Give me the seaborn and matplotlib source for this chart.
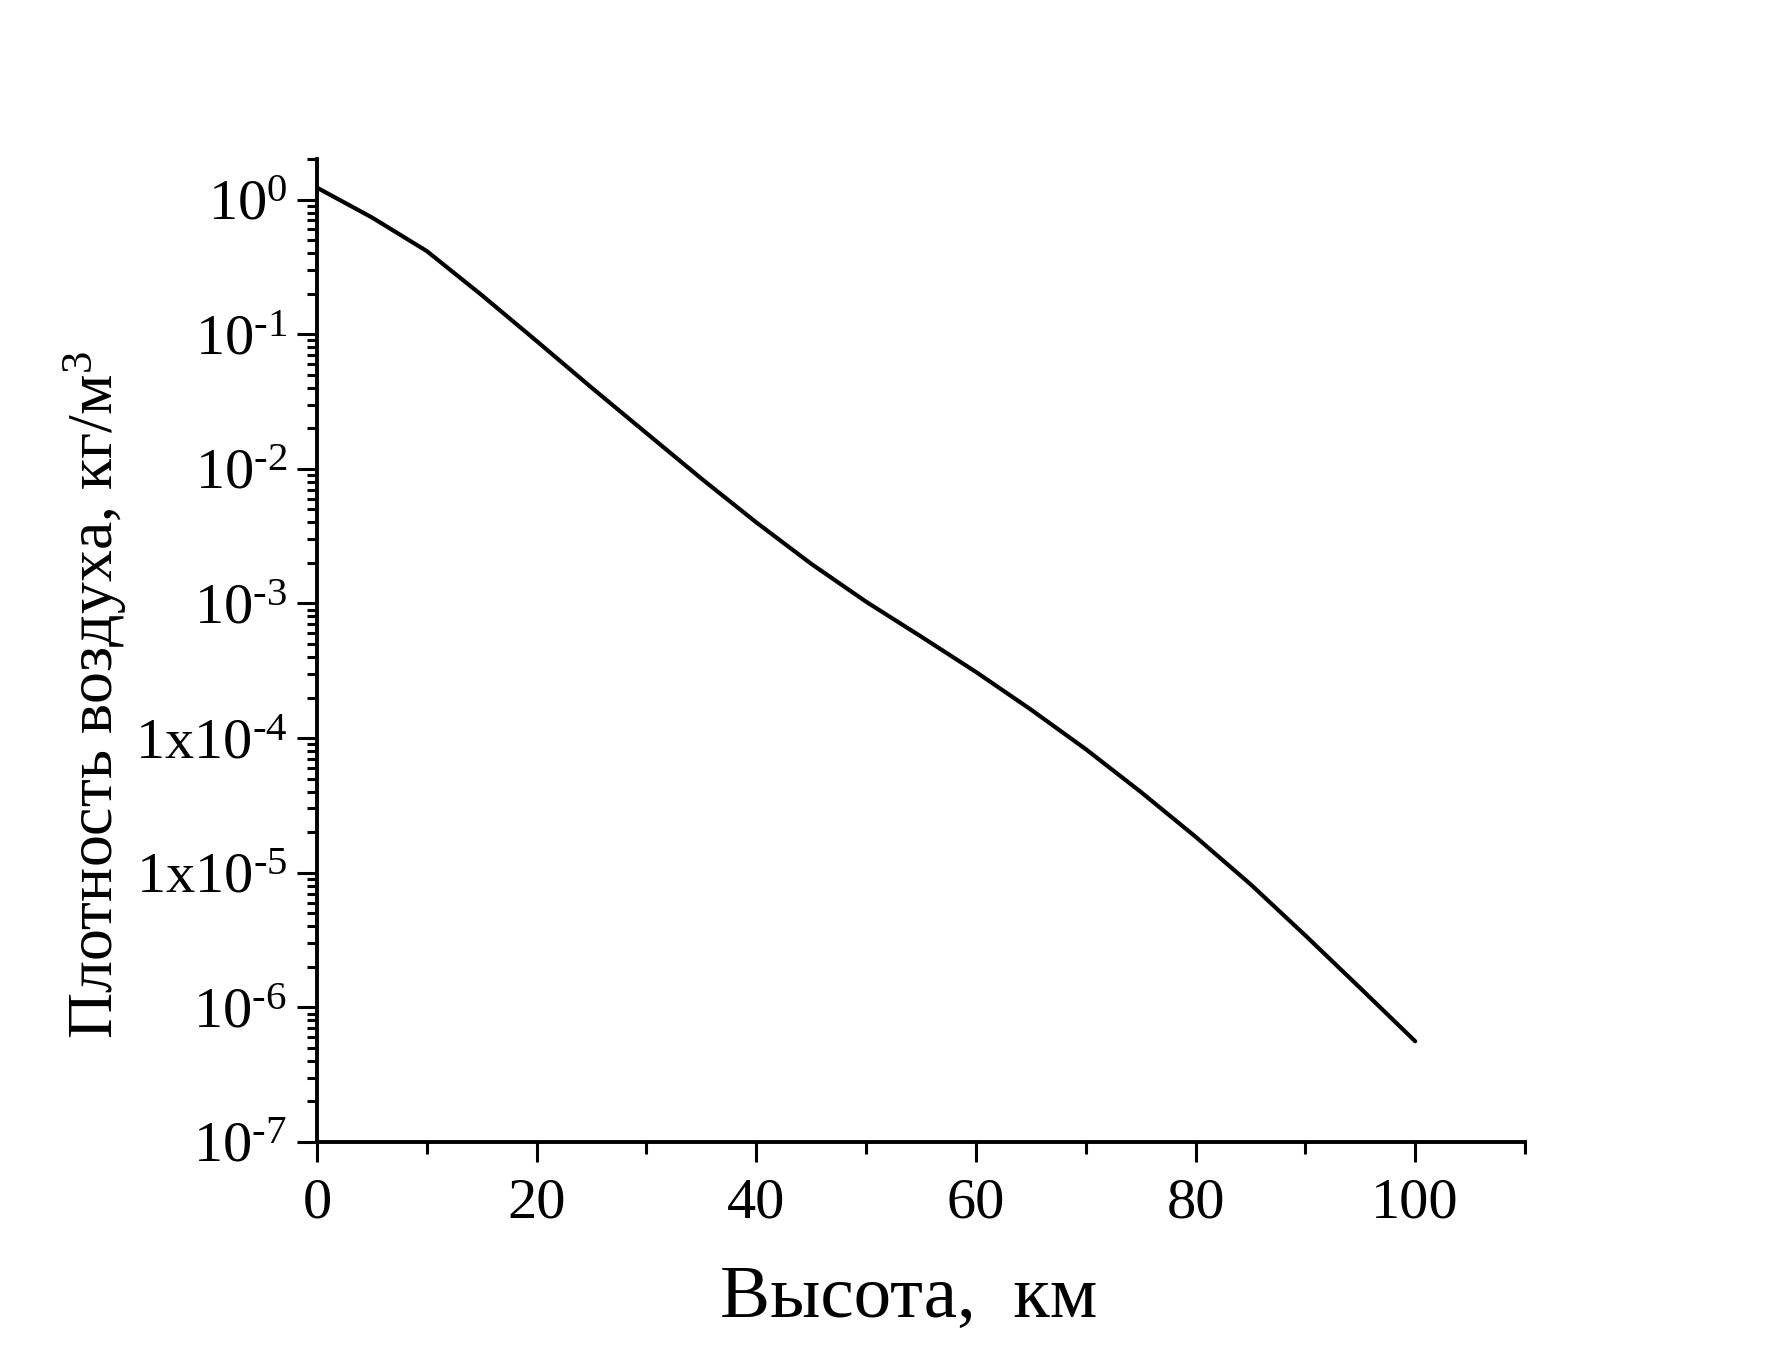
import matplotlib
matplotlib.use("Agg")
import matplotlib.pyplot as plt
import matplotlib.ticker as mticker
import seaborn as sns
import pandas as pd
import numpy as np

# Data (altitude, km ; air density, kg/m^3)
altitude_km = [0, 5, 10, 15, 20, 25, 30, 35, 40, 45, 50, 55, 60, 65, 70, 75, 80, 85, 90, 95, 100]
density = [1.225, 0.736, 0.414, 0.195, 0.0889, 0.0401, 0.0184, 0.00846, 0.0040, 0.00197,
           0.00103, 5.68e-4, 3.10e-4, 1.63e-4, 8.28e-5, 3.99e-5, 1.85e-5, 8.22e-6, 3.42e-6,
           1.39e-6, 5.6e-7]

xtick_values = [0, 20, 40, 60, 80, 100]
xtick_labels = ["0", "20", "40", "60", "80", "100"]
ytick_values = [1e0, 1e-1, 1e-2, 1e-3, 1e-4, 1e-5, 1e-6, 1e-7]
ytick_labels = [r"$10^{0}$", "$10^{\u2010 1}$", "$10^{\u2010 2}$", "$10^{\u2010 3}$",
                "$1\\mathrm{x}10^{\u2010 4}$", "$1\\mathrm{x}10^{\u2010 5}$",
                "$10^{\u2010 6}$", "$10^{\u2010 7}$"]

xlabel = "Высота,  км"
ylabel = "Плотность воздуха, кг/м$^3$"

sns.set_style("ticks")
plt.rcParams["font.family"] = ["Liberation Serif", "DejaVu Serif"]
plt.rcParams["mathtext.fontset"] = "custom"
plt.rcParams["mathtext.rm"] = "Liberation Serif"
plt.rcParams["mathtext.it"] = "Liberation Serif:italic"
plt.rcParams["mathtext.bf"] = "Liberation Serif:bold"

df = pd.DataFrame({"alt": altitude_km, "rho": density})

fig = plt.figure(figsize=(17.72, 13.69), dpi=100)
fig.patch.set_facecolor("white")
ax = fig.add_axes([317 / 1772, 1 - 1142 / 1369, (1525 - 317) / 1772, (1142 - 159) / 1369])
ax.set_facecolor("white")

sns.lineplot(data=df, x="alt", y="rho", ax=ax, color="black", linewidth=3.0)

ax.set_yscale("log")
ax.set_xlim(0, 110)
ax.set_ylim(1e-7, 2)

ax.set_xticks(xtick_values)
ax.set_xticklabels(xtick_labels)
ax.xaxis.set_minor_locator(mticker.MultipleLocator(10))

ax.yaxis.set_major_locator(mticker.FixedLocator(ytick_values))
ax.yaxis.set_major_formatter(mticker.FixedFormatter(ytick_labels))
ax.yaxis.set_minor_locator(mticker.LogLocator(base=10, subs=np.arange(2, 10), numticks=20))
ax.yaxis.set_minor_formatter(mticker.NullFormatter())

for s in ["top", "right"]:
    ax.spines[s].set_visible(False)
for s in ["left", "bottom"]:
    ax.spines[s].set_linewidth(2.8)
    ax.spines[s].set_color("black")

ax.tick_params(axis="both", which="major", direction="out", length=14.5, width=2.2,
               color="black", labelsize=42, labelcolor="black")
ax.tick_params(axis="x", which="major", pad=11)
ax.tick_params(axis="y", which="major", pad=7)
ax.tick_params(axis="x", which="minor", direction="out", length=8.5, width=2.2, color="black")
ax.tick_params(axis="y", which="minor", direction="out", length=7.5, width=2.2, color="black")

ax.set_xlabel(xlabel, fontsize=54, color="black")
ax.set_ylabel(ylabel, fontsize=46, color="black")
ax.xaxis.set_label_coords(0.490, -0.126)
ax.yaxis.set_label_coords(-0.156, 0.455)
ax.xaxis.label.set_va("top")

fig.savefig("out.png", dpi=100, facecolor="white")
